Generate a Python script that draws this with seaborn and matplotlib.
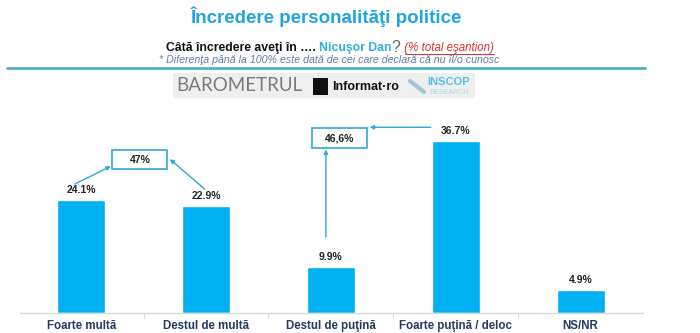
import matplotlib
matplotlib.use("Agg")
import matplotlib.pyplot as plt
import seaborn as sns
import pandas as pd
from matplotlib.patches import Rectangle

categories = ["Foarte multă", "Destul de multă", "Destul de puţină", "Foarte puţină / deloc", "NS/NR"]
values = [24.1, 22.9, 9.9, 36.7, 4.9]
value_labels = ["24.1%", "22.9%", "9.9%", "36.7%", "4.9%"]
group_labels = ["47%", "46,6%"]

title = "Încredere personalităţi politice"
footnote = "* Diferenţa până la 100% este dată de cei care declară că nu îl/o cunosc"

sns.set_theme(style="white")
plt.rcParams['font.family'] = ['Liberation Sans', 'DejaVu Sans']

W, H = 700, 333
fig = plt.figure(figsize=(7, 3.33), dpi=100)

def fx(px):
    return px / W

def fy(py):
    return 1 - py / H

BLUE = "#00B0F0"
LINE = "#2EA8D8"

# header
fig.text(fx(326), fy(17), title, ha="center", va="center", fontsize=13.5,
         fontweight="bold", color="#22A5DE")

renderer = fig.canvas.get_renderer()
parts = [
    ("Câtă încredere aveţi în …. ", dict(fontsize=8.8, fontweight="bold", color="#111111"), 0),
    ("Nicuşor Dan", dict(fontsize=8.8, fontweight="bold", color="#33AEDD"), 0),
    ("?", dict(fontsize=11.5, color="#666666"), 1),
    (" (% total eşantion)", dict(fontsize=8.3, style="italic", color="#E03030"), 0),
]
xcur = 166
for txt, kw, dy in parts:
    t = fig.text(fx(xcur), fy(48 - dy), txt, ha="left", va="center", **kw)
    bb = t.get_window_extent(renderer)
    if txt.startswith(" ("):
        fig.add_artist(plt.Line2D([fx(xcur + 4), fx(xcur + bb.width)], [fy(54), fy(54)],
                                  color="#E03030", lw=0.7))
    xcur += bb.width

fig.text(fx(329), fy(60), footnote, ha="center", va="center",
         fontsize=7.65, style="italic", color="#5C7FA8")
fig.add_artist(plt.Line2D([fx(7), fx(645)], [fy(68), fy(68)], color="#4DB0CC", lw=2))

# logo banner
fig.add_artist(Rectangle((fx(173), fy(98)), fx(302), 25 / H, transform=fig.transFigure,
                         facecolor="#EFEFEF", edgecolor="none"))
fig.text(fx(176), fy(86), "BAROMETRUL", ha="left", va="center", fontsize=13.5,
         color="#7A7A7A", family=["Lato", "DejaVu Sans"])
fig.add_artist(Rectangle((fx(313), fy(95)), 15 / W, 17 / H, transform=fig.transFigure,
                         facecolor="#111111", edgecolor="none"))
fig.text(fx(332), fy(87), "Informat·ro", ha="left", va="center", fontsize=9,
         fontweight="bold", color="#111111")
fig.text(fx(427), fy(82), "INSCOP", ha="left", va="center", fontsize=8,
         fontweight="bold", color="#4FC3E8")
fig.text(fx(429), fy(92), "RESEARCH", ha="left", va="center", fontsize=5,
         color="#A8D8EA")
fig.add_artist(plt.Line2D([fx(410), fx(424)], [fy(81), fy(92)], color="#9FC6D4", lw=3))

# bar chart
base_py = 313
px_per_unit = 4.69
ymax = 40
ax_h = ymax * px_per_unit
ax = fig.add_axes([fx(20), (H - base_py) / H, fx(623), ax_h / H])

df = pd.DataFrame({"cat": categories, "val": values})
sns.barplot(data=df, x="cat", y="val", color=BLUE, width=0.385, ax=ax,
            saturation=1, order=categories)
ax.set_xlim(-0.49, 4.5)
ax.set_ylim(0, ymax)
ax.set_xlabel("")
ax.set_ylabel("")
ax.set_yticks([])
for s in ["top", "right", "left"]:
    ax.spines[s].set_visible(False)
ax.spines["bottom"].set_color("#D9D9D9")
ax.spines["bottom"].set_linewidth(1)
ax.set_xticks(range(len(categories)))
ax.set_xticklabels(categories, fontsize=8.3, fontweight="bold", color="#243B5E")
ax.tick_params(axis="x", length=0, pad=5)
for b in [0.5, 1.5, 2.5, 3.5]:
    ax.plot([b, b], [0, -1.0], color="#D9D9D9", lw=0.8, clip_on=False)

for i, (v, lab) in enumerate(zip(values, value_labels)):
    ax.text(i, v + 1.0, lab, ha="center", va="bottom", fontsize=7.5,
            fontweight="bold", color="#222222")

# group boxes
def box(cx, cy, w, h, text):
    ax.add_patch(Rectangle((cx - w / 2, cy - h / 2), w, h, facecolor="white",
                           edgecolor=LINE, lw=1.2, clip_on=False))
    ax.text(cx, cy, text, ha="center", va="center", fontsize=7.5,
            fontweight="bold", color="#222222")

ux = 1 / 124.75
uy = 1 / px_per_unit
arrow = dict(arrowstyle="-|>", color=LINE, lw=1, mutation_scale=6, shrinkA=0, shrinkB=0)

# box 1 between bar 0 and bar 1
b1x = 0.47
b1y = values[0] + 8.6
box(b1x, b1y, 55 * ux, 19 * uy, group_labels[0])
ax.annotate("", xy=(b1x - 29 * ux, b1y - 1.4), xytext=(-0.05, values[0] + 3.4),
            arrowprops=arrow)
ax.annotate("", xy=(b1x + 30 * ux, b1y + 0.1), xytext=(0.99, values[1] + 3.5),
            arrowprops=arrow)

# box 2 near bar 2
b2x = 2.07
b2y = 37.3
box(b2x, b2y, 55 * ux, 20 * uy, group_labels[1])
ax.annotate("", xy=(1.96, b2y - 10 * uy - 0.3), xytext=(1.96, values[2] + 6.3),
            arrowprops=arrow)
ax.annotate("", xy=(b2x + 30 * ux, 39.6), xytext=(2.8, 39.6),
            arrowprops=arrow)

fig.savefig("out.png", dpi=100, facecolor="white")
